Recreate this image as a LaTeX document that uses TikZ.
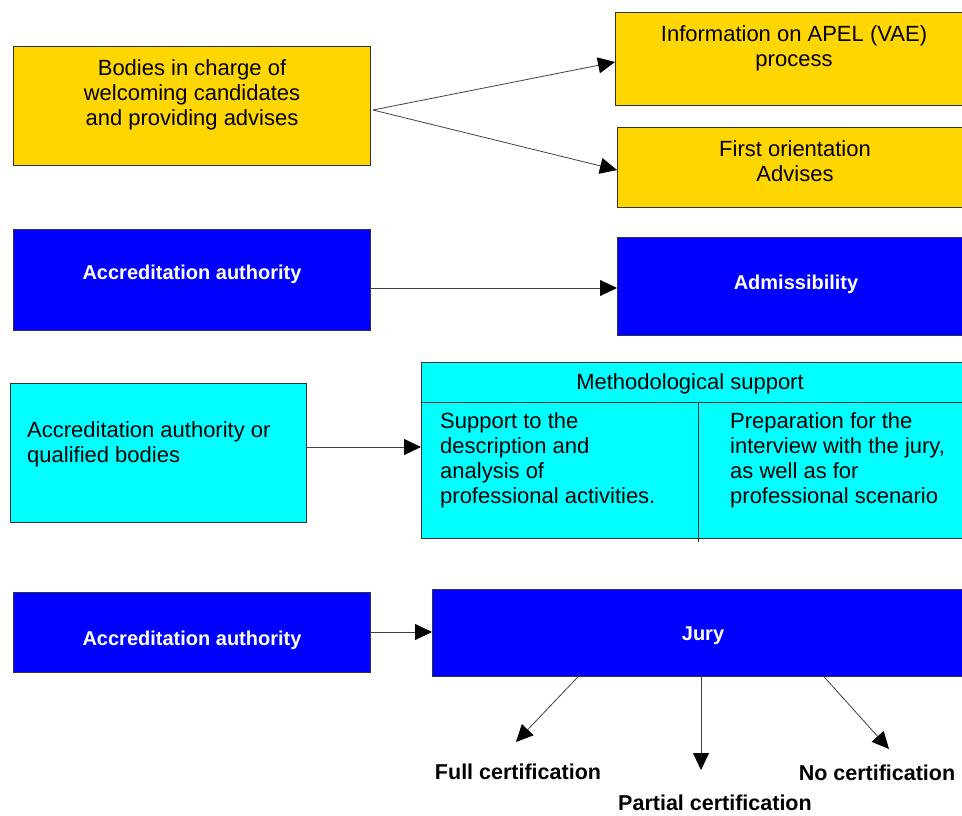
\documentclass[tikz,border=0pt]{standalone}
\usepackage{fontspec}
\setmainfont{Liberation Sans}
\usetikzlibrary{arrows.meta}
\definecolor{boxyellow}{RGB}{255,214,0}
\definecolor{boxblue}{RGB}{0,0,255}
\definecolor{boxcyan}{RGB}{0,255,255}
\begin{document}
\begin{tikzpicture}[x=1pt,y=-1pt,
  panel/.style={draw=black!80, line width=0.8pt, inner sep=0pt, anchor=north west},
  ybox/.style={panel, fill=boxyellow},
  bbox/.style={panel, fill=boxblue},
  cbox/.style={panel, fill=boxcyan},
  plain/.style={font=\fontsize{22}{25}\selectfont, align=center, inner sep=0pt},
  plainleft/.style={font=\fontsize{22}{25}\selectfont, align=left, inner sep=0pt, anchor=north west},
  whitetxt/.style={font=\bfseries\fontsize{20}{24}\selectfont, text=white, inner sep=0pt},
  outcome/.style={font=\bfseries\fontsize{21.5}{24}\selectfont, inner sep=0pt},
  conn/.style={draw=black!75, line width=0.8pt, -{Triangle[length=17pt,width=16pt,color=black]}}
]
\useasboundingbox (0,0) rectangle (962,816);

% --- reception and advice ---
\node[ybox, minimum width=357pt, minimum height=119pt] (welcome) at (13,46) {};
\node[plain] (welcometxt) at (192,95) {Bodies in charge of\\welcoming candidates\\and providing advises};
\node[ybox, minimum width=347pt, minimum height=93pt] (info) at (615,12) {};
\node[plain] (infotxt) at (794,48) {Information on APEL (VAE)\\process};
\node[ybox, minimum width=345pt, minimum height=80pt] (orient) at (617,127) {};
\node[plain] (orienttxt) at (795,161) {First orientation\\Advises};
\coordinate (split) at (373,110);
\draw[conn] (split) -- (info.west |- 0,62);
\draw[conn] (split) -- (orient.west |- 0,170);

% --- admissibility ---
\node[bbox, minimum width=357pt, minimum height=101pt] (auth1) at (13,229) {};
\node[whitetxt] (auth1txt) at (192,274) {Accreditation authority};
\node[bbox, minimum width=345pt, minimum height=98pt] (admis) at (617,237) {};
\node[whitetxt] (admistxt) at (796,284) {Admissibility};
\draw[conn] (auth1.east |- 0,288) -- (admis.west |- 0,288);

% --- methodological support ---
\node[cbox, minimum width=296pt, minimum height=139pt] (qual) at (10,383) {};
\node[plainleft] (qualtxt) at (27,421) {Accreditation authority or\\qualified bodies};
\node[cbox, minimum width=541pt, minimum height=176pt] (method) at (421,362) {};
\draw[draw=black!80, line width=0.8pt] (method.west |- 0,402) -- (method.east |- 0,402);
\draw[draw=black!80, line width=0.8pt] (698,402) -- (698,542);
\node[plain] (methodtxt) at (690,384) {Methodological support};
\node[plainleft] (desctxt) at (440,412) {Support to the\\description and\\analysis of\\professional activities.};
\node[plainleft] (preptxt) at (730,412) {Preparation for the\\interview with the jury,\\as well as for\\professional scenario};
\draw[conn] (qual.east |- 0,447) -- (method.west |- 0,447);

% --- jury and outcomes ---
\node[bbox, minimum width=357pt, minimum height=80pt] (auth2) at (13,592) {};
\node[whitetxt] (auth2txt) at (192,640) {Accreditation authority};
\node[bbox, minimum width=530pt, minimum height=87pt] (jury) at (432,589) {};
\node[whitetxt] (jurytxt) at (703,636) {Jury};
\draw[conn] (auth2.east |- 0,632) -- (jury.west |- 0,632);

\node[outcome] (full) at (518,772) {Full certification};
\node[outcome] (partial) at (715,803) {Partial certification};
\node[outcome] (none) at (877,773) {No certification};
\coordinate (fullend) at (516,742);
\coordinate (partialend) at (701,770);
\coordinate (noneend) at (889,749);
\draw[conn] (jury.south -| 578,0) -- (fullend);
\draw[conn] (jury.south -| 701,0) -- (partialend);
\draw[conn] (jury.south -| 824,0) -- (noneend);
\end{tikzpicture}
\end{document}
